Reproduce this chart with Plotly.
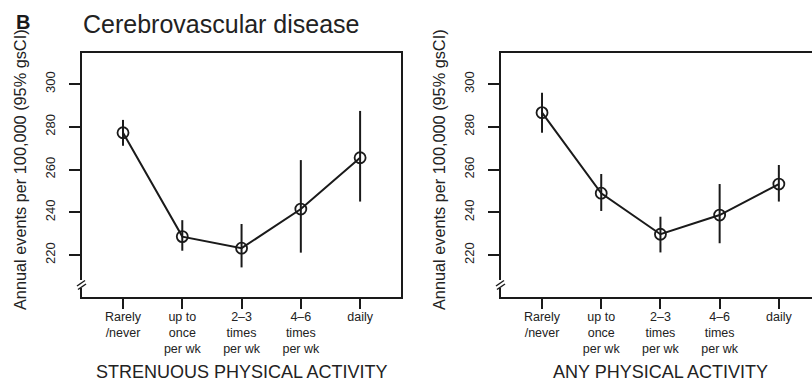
import plotly.graph_objects as go

W, H = 812, 381

categories = ["Rarely<br>/never", "up to<br>once<br>per wk", "2\u20133<br>times<br>per wk",
              "4\u20136<br>times<br>per wk", "daily"]
cat_pos = [1, 2, 3, 4, 5]

# Strenuous physical activity
stren_est = [277.2, 228.6, 223.2, 241.5, 265.5]
stren_lo = [271.1, 222.0, 214.2, 221.1, 245.0]
stren_hi = [283.2, 236.3, 234.5, 264.4, 287.4]

# Any physical activity
any_est = [286.6, 248.9, 229.7, 238.7, 253.2]
any_lo = [277.2, 240.6, 221.2, 225.5, 245.0]
any_hi = [295.9, 257.9, 237.9, 253.2, 262.1]

y_ticks = [220, 240, 260, 280, 300]

FONT = "Liberation Sans, Arial, Helvetica, sans-serif"
INK = "#1a1a1a"

def px(x):
    return x / W

def py(y):
    return 1 - y / H

fig = go.Figure()

def add_panel(est, lo, hi, xa, ya):
    fig.add_trace(go.Scatter(
        x=cat_pos, y=est, mode="lines+markers",
        xaxis=xa, yaxis=ya,
        line=dict(color=INK, width=2),
        marker=dict(symbol="circle-open", size=11, color=INK, line=dict(width=1.8, color=INK)),
        error_y=dict(type="data", symmetric=False,
                     array=[h - e for h, e in zip(hi, est)],
                     arrayminus=[e - l for e, l in zip(est, lo)],
                     thickness=2, width=0, color=INK),
        showlegend=False, hoverinfo="skip",
    ))

add_panel(stren_est, stren_lo, stren_hi, "x", "y")
add_panel(any_est, any_lo, any_hi, "x2", "y2")

yrange = [200.35, 314.5]
axis_common = dict(showgrid=False, zeroline=False, showline=True, linecolor=INK, linewidth=1.6,
                   ticks="outside", tickcolor=INK, tickwidth=1.5)
xfont = dict(family=FONT, size=12.5, color="#222")
yfont = dict(family=FONT, size=13, color="#222")

fig.update_layout(
    width=W, height=H, margin=dict(l=0, r=0, t=0, b=0),
    paper_bgcolor="white", plot_bgcolor="white",
    xaxis=dict(domain=[px(82), px(401)], range=[0.308, 5.69], anchor="y",
               tickvals=cat_pos, ticktext=categories, mirror=True, ticklen=10,
               ticklabelstandoff=-3, tickfont=xfont, **axis_common),
    yaxis=dict(domain=[py(297), py(53)], range=yrange, anchor="x",
               tickvals=y_ticks, tickangle=-90, mirror=True, ticklen=11,
               ticklabelstandoff=9, tickfont=yfont, **axis_common),
    xaxis2=dict(domain=[px(501), 1.0], range=[0.307, 5.56], anchor="y2",
                tickvals=cat_pos, ticktext=categories, mirror=True, ticklen=10,
                ticklabelstandoff=-3, tickfont=xfont, **axis_common),
    yaxis2=dict(domain=[py(297), py(53)], range=yrange, anchor="x2",
                tickvals=y_ticks, tickangle=-90, mirror=False, ticklen=11,
                ticklabelstandoff=9, tickfont=yfont, **axis_common),
)

annotations = [
    dict(text="<b>B</b>", x=px(22.5), y=py(22), xanchor="center", yanchor="middle",
         font=dict(family=FONT, size=20, color=INK)),
    dict(text="Cerebrovascular disease", x=px(81), y=py(24), xanchor="left", yanchor="middle",
         font=dict(family=FONT, size=25, color="#222")),
    dict(text="STRENUOUS PHYSICAL ACTIVITY", x=px(241.5), y=py(372), xanchor="center", yanchor="middle",
         font=dict(family=FONT, size=18, color="#222")),
    dict(text="ANY PHYSICAL ACTIVITY", x=px(660.5), y=py(372), xanchor="center", yanchor="middle",
         font=dict(family=FONT, size=18, color="#222")),
    dict(text="Annual events per 100,000 (95% gsCI)", x=px(20), y=py(170), textangle=-90,
         xanchor="center", yanchor="middle", font=dict(family=FONT, size=16.3, color="#222")),
    dict(text="Annual events per 100,000 (95% gsCI)", x=px(439), y=py(170), textangle=-90,
         xanchor="center", yanchor="middle", font=dict(family=FONT, size=16.3, color="#222")),
]
for a in annotations:
    a.update(xref="paper", yref="paper", showarrow=False)
fig.update_layout(annotations=annotations)

shapes = []
for ax in (82, 501):
    shapes.append(dict(type="rect", xref="paper", yref="paper",
                       x0=px(ax - 3), x1=px(ax + 3), y0=py(288), y1=py(280),
                       fillcolor="white", line=dict(width=0), layer="above"))
    shapes.append(dict(type="line", xref="paper", yref="paper",
                       x0=px(ax - 5), y0=py(286), x1=px(ax + 3), y1=py(280.5),
                       line=dict(color=INK, width=1.5), layer="above"))
    shapes.append(dict(type="line", xref="paper", yref="paper",
                       x0=px(ax - 4), y0=py(289.5), x1=px(ax + 4), y1=py(284),
                       line=dict(color=INK, width=1.5), layer="above"))
fig.update_layout(shapes=shapes)

fig.write_html("out.html")
